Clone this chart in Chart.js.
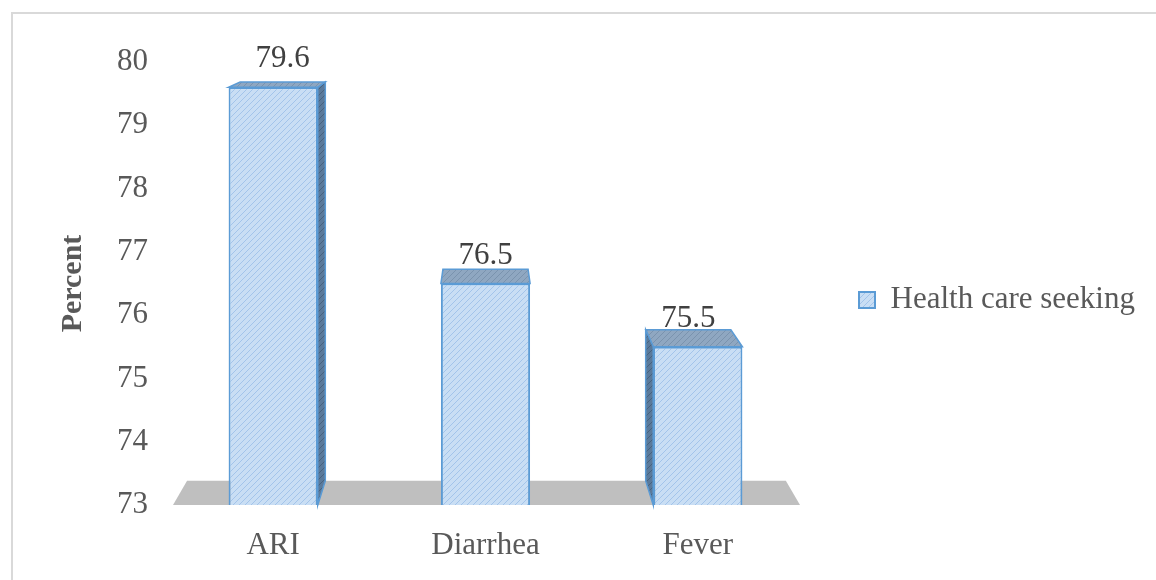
<!DOCTYPE html>
<html>
<head>
<meta charset="utf-8">
<script src="https://cdn.jsdelivr.net/npm/chart.js@4.4.0/dist/chart.umd.min.js"></script>
<style>
  html, body { margin: 0; padding: 0; background: #fff; }
  #wrap { position: relative; width: 1156px; height: 580px; overflow: hidden; }
  #frame { position: absolute; left: 11px; top: 12px; width: 1200px; height: 600px; border: 2px solid #d9d9d9; }
  #chart { position: absolute; left: 0; top: 0; }
</style>
</head>
<body>
<div id="wrap">
  <div id="frame"></div>
  <canvas id="chart" width="1156" height="580"></canvas>
</div>
<script>
const categories = ["ARI", "Diarrhea", "Fever"];
const values = [79.6, 76.5, 75.5];
const seriesName = "Health care seeking";
const yMin = 73;
const yMax = 80;

const FONT = "'Liberation Serif', 'Times New Roman', serif";
const BLUE = "#5b9bd5";
const DEPTH = 0.955; // how much the back face shrinks toward the vanishing point

// diagonal hatch used for the column faces
function hatch(bg, line) {
    const c = document.createElement("canvas");
    c.width = 6;
    c.height = 6;
    const g = c.getContext("2d");
    g.fillStyle = bg;
    g.fillRect(0, 0, 6, 6);
    g.strokeStyle = line;
    g.lineWidth = 1;
    g.beginPath();
    g.moveTo(0, 6); g.lineTo(6, 0);
    g.moveTo(-3, 3); g.lineTo(3, -3);
    g.moveTo(3, 9); g.lineTo(9, 3);
    g.stroke();
    return g.createPattern(c, "repeat");
}

const frontFill = hatch("#c9def4", "#a3c4ea");
const topFill = hatch("#8fa7c1", "#7a93ae");
const sideFill = hatch("#5b7a9b", "#46627f");

function back(chart, x, y) {
    const a = chart.chartArea;
    const vx = (a.left + a.right) / 2;
    const vy = a.top - 94;
    return [vx + (x - vx) * DEPTH, vy + (y - vy) * DEPTH];
}

function poly(ctx, pts, fill, stroke) {
    ctx.beginPath();
    ctx.moveTo(pts[0][0], pts[0][1]);
    for (let i = 1; i < pts.length; i++) ctx.lineTo(pts[i][0], pts[i][1]);
    ctx.closePath();
    ctx.fillStyle = fill;
    ctx.fill();
    if (stroke) {
        ctx.strokeStyle = stroke;
        ctx.lineWidth = 1.5;
        ctx.stroke();
    }
}

// gray floor under the columns + the 3D top/side faces + value labels
const columns3d = {
    id: "columns3d",
    afterLayout(chart) {
        // let the legend text run to the canvas edge instead of being clipped
        const lg = chart.legend;
        if (lg) {
            lg.right = chart.width;
            lg.width = lg.right - lg.left;
        }
    },
    beforeDatasetsDraw(chart) {
        const a = chart.chartArea;
        const ctx = chart.ctx;
        const l = a.left + 6, r = a.right - 4, y = a.bottom;
        ctx.save();
        poly(ctx, [[l, y], [r, y], back(chart, r, y), back(chart, l, y)], "#bfbfbf");
        ctx.restore();
    },
    afterDatasetsDraw(chart) {
        const a = chart.chartArea;
        const ctx = chart.ctx;
        const vx = (a.left + a.right) / 2;
        const meta = chart.getDatasetMeta(0);
        ctx.save();
        meta.data.forEach((bar, i) => {
            const left = bar.x - bar.width / 2;
            const right = bar.x + bar.width / 2;
            const top = bar.y;
            const bottom = Math.min(bar.base, a.bottom);

            poly(ctx, [[left, top], [right, top], back(chart, right, top), back(chart, left, top)], topFill, BLUE);
            if (right < vx) {
                poly(ctx, [[right, top], back(chart, right, top), back(chart, right, bottom), [right, bottom]], sideFill, BLUE);
            }
            if (left > vx) {
                poly(ctx, [[left, top], back(chart, left, top), back(chart, left, bottom), [left, bottom]], sideFill, BLUE);
            }

            ctx.font = "31px " + FONT;
            ctx.fillStyle = "#404040";
            ctx.textAlign = "center";
            ctx.textBaseline = "middle";
            ctx.fillText(values[i].toFixed(1), back(chart, bar.x, top)[0], top - 28);
        });
        ctx.restore();
    }
};

new Chart(document.getElementById("chart"), {
    type: "bar",
    data: {
        labels: categories,
        datasets: [{
            label: seriesName,
            data: values,
            backgroundColor: frontFill,
            borderColor: BLUE,
            borderWidth: 2,
            barPercentage: 0.84,
            categoryPercentage: 0.5
        }]
    },
    options: {
        responsive: false,
        animation: false,
        layout: { padding: { top: 20, right: 84, bottom: 0, left: 0 } },
        plugins: {
            title: {
                display: true,
                text: "",
                fullSize: false,
                font: { size: 12, lineHeight: 1 },
                padding: { top: 0, bottom: 30 }
            },
            legend: {
                position: "right",
                labels: {
                    boxWidth: 16,
                    boxHeight: 16,
                    padding: 55,
                    color: "#595959",
                    font: { family: FONT, size: 31 }
                }
            },
            tooltip: { enabled: false }
        },
        scales: {
            x: {
                grid: { display: false, drawTicks: false },
                border: { display: false },
                ticks: { padding: 22, color: "#595959", font: { family: FONT, size: 31 } },
                afterFit: s => { s.height = 75; }
            },
            y: {
                min: yMin,
                max: yMax,
                grid: { display: false, drawTicks: false },
                border: { display: false },
                ticks: { stepSize: 1, padding: 19, color: "#595959", font: { family: FONT, size: 31 } },
                title: {
                    display: true,
                    text: "Percent",
                    color: "#595959",
                    font: { family: FONT, size: 30, weight: "bold" },
                    padding: { top: 55, bottom: 0 }
                },
                afterFit: s => { s.width = 167; }
            }
        }
    },
    plugins: [columns3d]
});
</script>
</body>
</html>
